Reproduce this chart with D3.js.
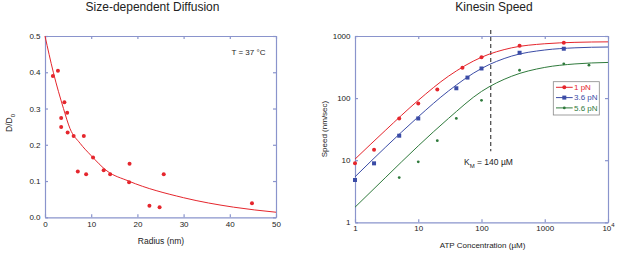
<!DOCTYPE html>
<html>
<head>
<meta charset="utf-8">
<script src="https://cdn.jsdelivr.net/npm/d3@7"></script>
<style>
body{margin:0;background:#fff;}
svg{display:block;font-family:"Liberation Sans",Arial,sans-serif;}
</style>
</head>
<body>
<svg width="617" height="253"></svg>
<script>
"use strict";

// left panel: size-dependent diffusion
var radius=[1.7,2.8,3.5,3.5,4.2,4.8,4.9,6.2,7.1,8.4,8.9,10.4,12.7,14.1,18.2,18.3,22.6,24.8,25.7,44.8];
var diffRatio=[0.39,0.404,0.274,0.249,0.317,0.288,0.234,0.224,0.126,0.224,0.119,0.165,0.130,0.119,0.097,0.148,0.032,0.028,0.119,0.039];
var fitRadius=[0,1.8,4,5.4,7.6,10,13.4,18.1,30,40.8,50];
var fitDiff=[0.5,0.40,0.30,0.245,0.204,0.17,0.128,0.10,0.054,0.028,0.014];
var radiusTicks=[0,10,20,30,40,50];
var diffTicks=[0,0.1,0.2,0.3,0.4,0.5];

// right panel: kinesin speed
var atp1=[1,2,5,10,20,50,100,400,2000];
var speed1=[8.9,14.7,47,82,137,307,456,697,778];
var atp36=[1,2,5,10,40,60,100,400,2000];
var speed36=[4.8,8.9,24.8,47,144,214,300,537,624];
var atp56=[5,10,20,40,100,400,2000,5000];
var speed56=[5.25,9.4,20.6,47,92,281,357,339];
var fitAtp=[1,3,10,30,100,300,1000,3000,10000];
var fit1=[10.4,30,92,225,455,645,750,790,805];
var fit36=[5.4,16,50,130,300,475,595,645,665];
var fit56=[1.75,5.2,17,47,128,225,312,355,375];
var seriesNames=["1 pN","3.6 pN","5.6 pN"];
var atpTicks=[1,10,100,1000,10000];
var speedTicks=[1,10,100,1000];
var kmValue=140;
var kmRange=[14,1250];

var axisColor="#8a94cc";
var red="#e5262d", blue="#3b4ca6", green="#2f7a3c";

var svg=d3.select("svg");

function zip(xs,ys){
	return xs.map(function(x,i){return {x:x,y:ys[i]};});
}

function frame(g,x,y,bottomTicks,leftTicks,xFmt,yFmt,xPad,yPad){
	var x0=x.range()[0], x1=x.range()[1], y0=y.range()[0], y1=y.range()[1];
	g.append("g").attr("class","ax xb").attr("transform","translate(0,"+y0+")")
		.call(d3.axisBottom(x).tickValues(bottomTicks).tickSizeInner(-3).tickSizeOuter(0).tickPadding(xPad).tickFormat(xFmt));
	g.append("g").attr("class","ax").attr("transform","translate(0,"+y1+")")
		.call(d3.axisTop(x).tickValues(bottomTicks).tickSizeInner(-3).tickSizeOuter(0).tickFormat(""));
	g.append("g").attr("class","ax").attr("transform","translate("+x0+",0)")
		.call(d3.axisLeft(y).tickValues(leftTicks).tickSizeInner(-3).tickSizeOuter(0).tickPadding(yPad).tickFormat(yFmt));
	g.append("g").attr("class","ax").attr("transform","translate("+x1+",0)")
		.call(d3.axisRight(y).tickValues(leftTicks).tickSizeInner(-3).tickSizeOuter(0).tickFormat(""));
	g.selectAll(".ax path, .ax line").attr("stroke",axisColor).attr("stroke-width",1.2);
	g.selectAll(".ax text").attr("font-family","Liberation Sans, Arial, sans-serif").attr("font-size",8).attr("fill","#222");
}

// ---------- left chart ----------
var xScale=d3.scaleLinear().domain([0,50]).range([45,276]);
var yScale=d3.scaleLinear().domain([0,0.5]).range([217.3,36]);

var left=svg.append("g");
frame(left,xScale,yScale,radiusTicks,diffTicks,d3.format("d"),d3.format(".1f"),4,4.5);

var fitLine=d3.line()
	.x(function(d){return xScale(d.x);})
	.y(function(d){return yScale(d.y);})
	.curve(d3.curveMonotoneX);

left.append("path")
	.attr("d",fitLine(zip(fitRadius,fitDiff)))
	.attr("fill","none")
	.attr("stroke",red)
	.attr("stroke-width",1);

left.selectAll("circle.pt")
	.data(zip(radius,diffRatio))
	.enter()
	.append("circle")
	.attr("class","pt")
	.attr("r",2)
	.attr("cx",function(d){return xScale(d.x);})
	.attr("cy",function(d){return yScale(d.y);})
	.style("fill",red);

left.append("text").attr("x",152.5).attr("y",11).attr("text-anchor","middle")
	.attr("font-size",12).attr("fill","#222").text("Size-dependent Diffusion");
left.append("text").attr("x",161).attr("y",244).attr("text-anchor","middle")
	.attr("font-size",8.5).attr("fill","#222").text("Radius (nm)");
var dLab=left.append("text").attr("transform","translate(12,123) rotate(-90)")
	.attr("text-anchor","middle").attr("font-size",8.5).attr("fill","#222");
dLab.append("tspan").text("D/D");
dLab.append("tspan").attr("font-size",6).attr("dy",2.5).text("0");
left.append("text").attr("x",231.5).attr("y",55)
	.attr("font-size",8).attr("fill","#222").text("T = 37 °C");

// ---------- right chart ----------
var xLog=d3.scaleLog().domain([1,10000]).range([355,608]);
var yLog=d3.scaleLog().domain([1,1000]).range([222.3,36]);

var right=svg.append("g");
frame(right,xLog,yLog,atpTicks,speedTicks,function(d){return d===10000?"10":String(d);},function(d){return String(d);},3,4.5);

// 10^4 label gets a superscript (bottom axis only)
right.selectAll(".xb text").filter(function(d){return d===10000;})
	.append("tspan").attr("font-size",6).attr("dy",-3.5).text("4");

// K_M marker
right.append("line")
	.attr("x1",xLog(kmValue)).attr("x2",xLog(kmValue))
	.attr("y1",yLog(kmRange[1])).attr("y2",yLog(kmRange[0]))
	.attr("stroke","#333").attr("stroke-width",1.1).attr("stroke-dasharray","4,3");
var kmLab=right.append("text").attr("x",464).attr("y",165)
	.attr("font-size",8.5).attr("fill","#222");
kmLab.append("tspan").text("K");
kmLab.append("tspan").attr("font-size",6).attr("dy",2.5).text("M");
kmLab.append("tspan").attr("dy",-2.5).text(" = 140 µM");

var logLine=d3.line()
	.x(function(d){return xLog(d.x);})
	.y(function(d){return yLog(d.y);})
	.curve(d3.curveMonotoneX);

var series=[
	{name:seriesNames[0],color:red,fit:zip(fitAtp,fit1),pts:zip(atp1,speed1),shape:"circle"},
	{name:seriesNames[1],color:blue,fit:zip(fitAtp,fit36),pts:zip(atp36,speed36),shape:"square"},
	{name:seriesNames[2],color:green,fit:zip(fitAtp,fit56),pts:zip(atp56,speed56),shape:"dot"}
];

function marker(sel,shape,color){
	if(shape==="square"){
		sel.append("rect").attr("x",-2).attr("y",-2).attr("width",4).attr("height",4).style("fill",color);
	}else{
		sel.append("circle").attr("r",shape==="dot"?1.4:2).style("fill",color);
	}
}

series.forEach(function(s){
	right.append("path")
		.attr("d",logLine(s.fit))
		.attr("fill","none")
		.attr("stroke",s.color)
		.attr("stroke-width",1);
	right.selectAll("g.m"+s.shape)
		.data(s.pts)
		.enter()
		.append("g")
		.attr("class","m"+s.shape)
		.attr("transform",function(d){return "translate("+xLog(d.x)+","+yLog(d.y)+")";})
		.each(function(){marker(d3.select(this),s.shape,s.color);});
});

// legend
var legend=right.append("g").attr("transform","translate(553.3,81.7)");
legend.append("rect").attr("width",46).attr("height",33.3)
	.attr("fill","#fff").attr("stroke","#888").attr("stroke-width",0.8);
series.forEach(function(s,i){
	var row=legend.append("g").attr("transform","translate(0,"+(5.6+i*10.3)+")");
	row.append("line").attr("x1",2.7).attr("x2",19.4).attr("stroke",s.color).attr("stroke-width",1);
	marker(row.append("g").attr("transform","translate(11,0)"),s.shape,s.color);
	row.append("text").attr("x",20.7).attr("dy","0.35em").attr("font-size",8)
		.attr("fill",s.color).text(s.name);
});

right.append("text").attr("x",494).attr("y",11).attr("text-anchor","middle")
	.attr("font-size",12).attr("fill","#222").text("Kinesin Speed");
right.append("text").attr("x",482.5).attr("y",248).attr("text-anchor","middle")
	.attr("font-size",8).attr("fill","#222").text("ATP Concentration (µM)");
right.append("text").attr("transform","translate(327,129) rotate(-90)")
	.attr("text-anchor","middle").attr("font-size",8).attr("fill","#222").text("Speed (nm/sec)");
</script>
</body>
</html>
